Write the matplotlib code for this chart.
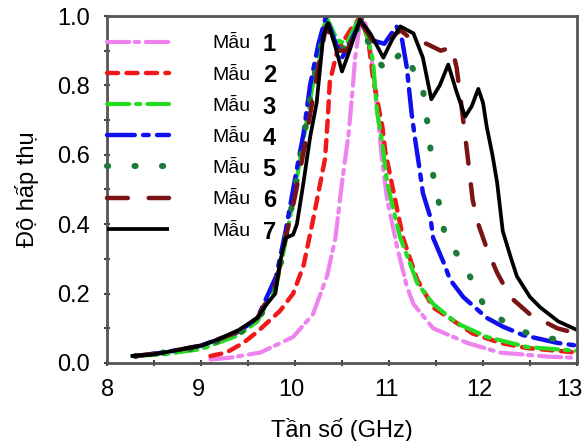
import matplotlib
matplotlib.use("Agg")
import matplotlib.pyplot as plt
import matplotlib.transforms as mtransforms
from matplotlib.ticker import MultipleLocator

plt.rcParams['font.family'] = ['Liberation Sans', 'DejaVu Sans']
plt.rcParams['lines.scale_dashes'] = False

# ---- data (frequency GHz, absorption) ----
f1 = [9.1, 9.3, 9.63, 9.98, 10.19, 10.34, 10.43, 10.50, 10.57, 10.61, 10.64, 10.68, 10.72, 10.78, 10.85, 10.92, 10.98, 11.09, 11.19, 11.26, 11.47, 11.83, 12.18, 12.71, 13.0]
a1 = [0.01, 0.015, 0.03, 0.075, 0.14, 0.25, 0.36, 0.52, 0.66, 0.78, 0.88, 0.96, 1.0, 0.95, 0.80, 0.60, 0.47, 0.33, 0.22, 0.17, 0.10, 0.058, 0.03, 0.018, 0.015]

f2 = [9.1, 9.27, 9.45, 9.6, 9.84, 9.98, 10.09, 10.19, 10.27, 10.32, 10.35, 10.37, 10.45, 10.59, 10.70, 10.78, 10.83, 10.93, 10.96, 11.05, 11.15, 11.30, 11.47, 11.89, 12.18, 12.47, 13.0]
a2 = [0.02, 0.03, 0.058, 0.09, 0.15, 0.20, 0.28, 0.41, 0.52, 0.59, 0.71, 0.81, 0.90, 0.96, 1.0, 0.93, 0.82, 0.68, 0.61, 0.49, 0.36, 0.24, 0.16, 0.085, 0.058, 0.043, 0.03]

f3 = [8.3, 8.6, 9.0, 9.4, 9.6, 9.8, 9.9, 10.0, 10.1, 10.2, 10.33, 10.45, 10.55, 10.69, 10.78, 10.83, 10.87, 10.93, 10.98, 11.04, 11.12, 11.22, 11.30, 11.47, 11.72, 12.04, 12.47, 13.0]
a3 = [0.02, 0.025, 0.04, 0.08, 0.12, 0.22, 0.35, 0.50, 0.66, 0.82, 1.0, 0.93, 0.92, 1.0, 0.93, 0.87, 0.73, 0.63, 0.52, 0.45, 0.36, 0.29, 0.23, 0.17, 0.115, 0.075, 0.046, 0.035]

f4 = [8.3, 8.6, 9.0, 9.4, 9.6, 9.8, 9.9, 9.98, 10.02, 10.09, 10.16, 10.25, 10.33, 10.42, 10.50, 10.60, 10.70, 10.82, 10.95, 11.08, 11.14, 11.19, 11.24, 11.28, 11.33, 11.36, 11.44, 11.47, 11.58, 11.65, 11.79, 12.04, 12.21, 12.43, 12.79, 13.0]
a4 = [0.02, 0.03, 0.05, 0.09, 0.13, 0.25, 0.38, 0.50, 0.56, 0.66, 0.80, 0.92, 1.0, 0.93, 0.88, 0.93, 0.99, 0.93, 0.92, 0.97, 0.93, 0.85, 0.72, 0.64, 0.55, 0.49, 0.42, 0.36, 0.29, 0.24, 0.19, 0.13, 0.105, 0.08, 0.058, 0.05]

f5 = [8.3, 8.6, 9.0, 9.4, 9.6, 9.8, 9.9, 10.0, 10.1, 10.2, 10.33, 10.45, 10.55, 10.69, 10.85, 10.98, 11.08, 11.15, 11.25, 11.36, 11.40, 11.44, 11.47, 11.54, 11.60, 11.76, 11.86, 12.02, 12.32, 12.60, 13.0]
a5 = [0.02, 0.03, 0.045, 0.085, 0.12, 0.22, 0.36, 0.50, 0.66, 0.82, 0.98, 0.92, 0.90, 0.98, 0.88, 0.84, 0.88, 0.90, 0.85, 0.79, 0.71, 0.62, 0.54, 0.45, 0.36, 0.30, 0.25, 0.16, 0.10, 0.075, 0.06]

f6 = [8.3, 8.6, 9.0, 9.4, 9.6, 9.8, 9.9, 10.0, 10.1, 10.2, 10.33, 10.45, 10.55, 10.70, 10.85, 11.0, 11.12, 11.25, 11.40, 11.55, 11.67, 11.72, 11.78, 11.83, 11.89, 11.95, 12.04, 12.15, 12.29, 12.5, 12.79, 13.0]
a6 = [0.02, 0.03, 0.05, 0.09, 0.13, 0.23, 0.36, 0.48, 0.62, 0.78, 0.97, 0.90, 0.90, 0.98, 0.92, 0.93, 0.96, 0.93, 0.92, 0.90, 0.91, 0.85, 0.72, 0.61, 0.47, 0.40, 0.33, 0.26, 0.19, 0.14, 0.10, 0.085]

f7 = [8.25, 8.5, 8.8, 9.0, 9.2, 9.4, 9.6, 9.7, 9.79, 9.84, 9.9, 9.98, 10.02, 10.09, 10.16, 10.23, 10.30, 10.35, 10.42, 10.50, 10.58, 10.69, 10.80, 10.94, 11.03, 11.12, 11.26, 11.36, 11.45, 11.54, 11.63, 11.72, 11.81, 11.88, 11.95, 12.0, 12.04, 12.10, 12.15, 12.21, 12.30, 12.36, 12.50, 12.61, 12.80, 13.0]
a7 = [0.02, 0.025, 0.04, 0.05, 0.07, 0.095, 0.13, 0.17, 0.20, 0.29, 0.36, 0.37, 0.40, 0.52, 0.65, 0.75, 0.94, 0.98, 0.92, 0.84, 0.90, 0.99, 0.95, 0.88, 0.93, 0.97, 0.95, 0.88, 0.76, 0.80, 0.86, 0.78, 0.71, 0.74, 0.79, 0.75, 0.68, 0.60, 0.52, 0.38, 0.30, 0.25, 0.19, 0.16, 0.12, 0.095]

labels = ["Mẫu", "Mẫu", "Mẫu", "Mẫu", "Mẫu", "Mẫu", "Mẫu"]
numbers = ["1", "2", "3", "4", "5", "6", "7"]
xticks = [8, 9, 10, 11, 12, 13]
yticks = [0.0, 0.2, 0.4, 0.6, 0.8, 1.0]

series = [(f1, a1), (f2, a2), (f3, a3), (f4, a4), (f5, a5), (f6, a6), (f7, a7)]
colors = ['#EE82EE', '#F01818', '#22DD22', '#1010EE', '#1E7A3A', '#7A1414', '#000000']
dashes = [(16, 4, 3, 5), (8, 6), (16, 5, 3, 5), (20, 6, 4, 6), (0.8, 19), (15, 15), None]
lws = [3, 3.2, 3, 3.2, 4.4, 3.2, 2.7]

fig = plt.figure(figsize=(5.87, 4.41), dpi=100)
ax = fig.add_axes([0.1823, 0.1769, 0.8007, 0.7868])

handles = []
for (x, y), c, d, lw in zip(series, colors, dashes, lws):
    if d is None:
        ln, = ax.plot(x, y, color=c, lw=lw, solid_capstyle='butt')
    else:
        ln, = ax.plot(x, y, color=c, lw=lw, dashes=d, dash_capstyle='round')
    handles.append(ln)

ax.set_xlim(8, 13)
ax.set_ylim(0, 1.0)
ax.set_xticks(xticks)
ax.set_yticks(yticks)
ax.set_yticklabels([f"{v:.1f}" for v in yticks])
ax.xaxis.set_minor_locator(MultipleLocator(0.5))
ax.yaxis.set_minor_locator(MultipleLocator(0.1))
ax.tick_params(which='both', direction='inout', length=5, width=1.5, color='#444444',
               labelsize=17)
ax.tick_params(axis='x', pad=9)
ax.tick_params(axis='y', pad=10)
for s in ax.spines.values():
    s.set_color('#555555')
    s.set_linewidth(2)

# small leftward shifts of x tick labels as in the reference
shifts_px = [1, -3, -4, -3, -4, -8]
for lab, dx in zip(ax.get_xticklabels(), shifts_px):
    lab.set_transform(lab.get_transform() + mtransforms.ScaledTranslation(dx / 100, 0, fig.dpi_scale_trans))

ax.set_xlabel("Tần số (GHz)", fontsize=17, labelpad=12)
ax.set_ylabel("Độ hấp thụ", fontsize=17, labelpad=13)

leg = ax.legend(handles, labels, loc='upper left', bbox_to_anchor=(0.0, 0.946),
                frameon=False, fontsize=14, handlelength=3.2, handletextpad=2.2,
                labelspacing=0.70, borderpad=0, borderaxespad=0)
fig.canvas.draw()
for t, n in zip(leg.get_texts(), numbers):
    ax.annotate(n, xy=(1, 0.45), xycoords=t, xytext=(9, 0), textcoords='offset points',
                va='center', ha='left', fontsize=17, fontweight='bold', zorder=10)

fig.savefig("out.png", dpi=100)
